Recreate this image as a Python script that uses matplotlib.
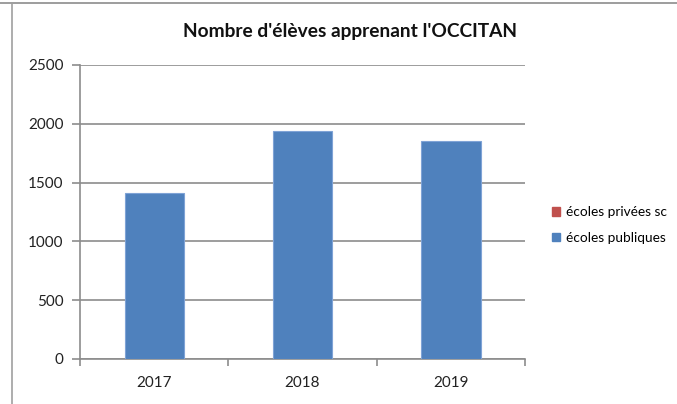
import matplotlib
matplotlib.use('Agg')
import matplotlib.pyplot as plt
from matplotlib.patches import Patch
import numpy as np

plt.rcParams['font.family'] = ['Lato', 'DejaVu Sans']

annees = ['2017', '2018', '2019']
publiques = [1410, 1935, 1850]
privees = [0, 0, 0]
titre = "Nombre d'élèves apprenant l'OCCITAN"

fig = plt.figure(figsize=(6.77, 4.04), dpi=100)
ax = fig.add_axes([80 / 677, 45 / 404, 445 / 677, 294 / 404])

x = np.arange(len(annees))
ax.bar(x, publiques, width=0.4, color='#4F81BD', edgecolor='#7FA3D6', linewidth=0.8, zorder=3)
ax.bar(x, privees, bottom=publiques, width=0.4, color='#C0504D', linewidth=0, zorder=3)

ax.set_xlim(-0.5, 2.5)
ax.set_ylim(0, 2500)
ax.set_yticks(range(0, 2501, 500))
ax.yaxis.grid(True, color='#8c8c8c', linewidth=1.2, zorder=0)
ax.set_xticks(x)
ax.set_xticklabels(annees)
ax.set_xticks([-0.5, 0.5, 1.5, 2.5], minor=True)
ax.tick_params(axis='x', which='major', length=0, pad=12, labelsize=11, colors='#222222')
ax.tick_params(axis='x', which='minor', length=5, color='#8c8c8c', width=1.2)
ax.tick_params(axis='y', length=6, color='#8c8c8c', width=1.2, labelsize=11, colors='#222222', pad=6)
ax.tick_params(axis='y', color='#8c8c8c')

for s in ['top', 'right']:
    ax.spines[s].set_visible(False)
for s in ['left', 'bottom']:
    ax.spines[s].set_color('#8c8c8c')
    ax.spines[s].set_linewidth(1.2)

fig.text(350 / 677, 1 - 31 / 404, titre, ha='center', va='center',
         fontsize=13.8, fontweight='bold', color='#111111')

handles = [Patch(color='#C0504D', label='écoles privées sc'),
           Patch(color='#4F81BD', label='écoles publiques')]
fig.legend(handles=handles, loc='center left', bbox_to_anchor=(540 / 677, 1 - 225 / 404),
           frameon=False, fontsize=9.8, handlelength=0.6, handleheight=0.6,
           handletextpad=0.4, labelspacing=1.0)

# cadre gris en haut et a gauche
fig.add_artist(plt.Line2D([0, 1], [1 - 3 / 404, 1 - 3 / 404], color='#8c8c8c', linewidth=1.2))
fig.add_artist(plt.Line2D([12 / 677, 12 / 677], [0, 1 - 3 / 404], color='#a0a0a0', linewidth=1.2))

fig.savefig('out.png', dpi=100)
